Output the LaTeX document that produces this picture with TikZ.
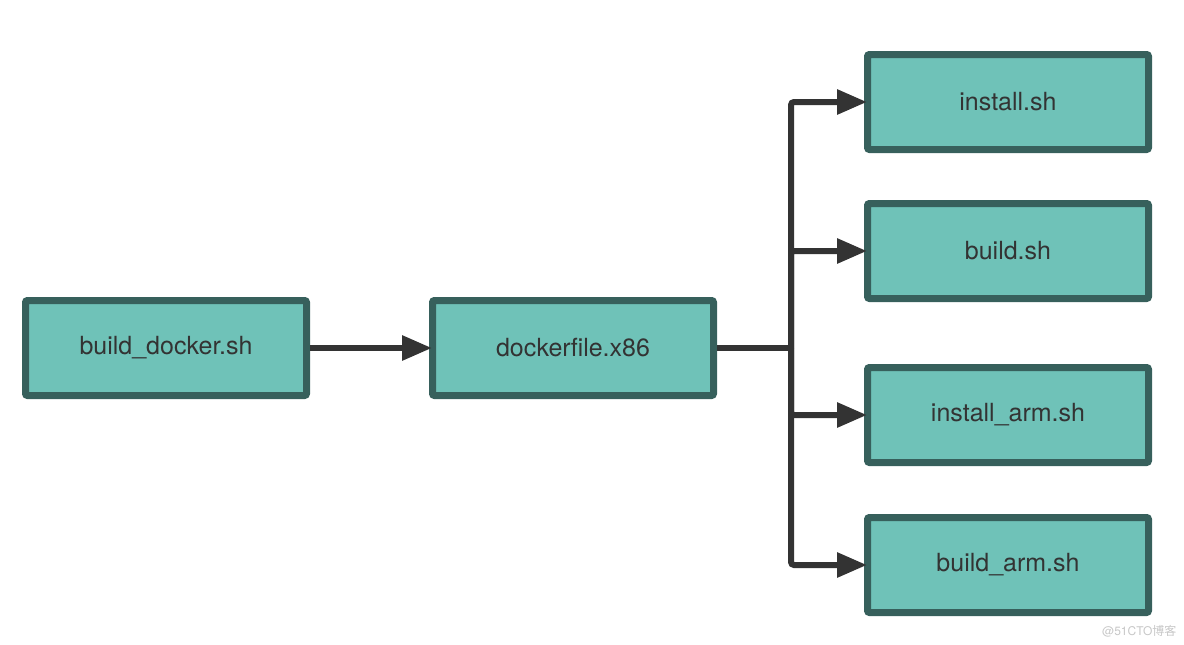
\documentclass[tikz,border=0pt]{standalone}
\usepackage{fontspec}
\setmainfont{TeX Gyre Heros}
\newfontfamily\cjk{Noto Sans CJK SC}
\usepackage{xcolor}
\usepackage{tikz}
\usetikzlibrary{arrows.meta, positioning, calc}
\definecolor{boxfill}{RGB}{111,194,184}
\definecolor{boxline}{RGB}{55,96,92}
\definecolor{arrowcol}{RGB}{51,51,51}
\tikzset{
    file/.style={rectangle, draw=boxline, fill=boxfill, line width=7pt, rounded corners=2pt,
        minimum width=281pt, minimum height=95pt, text=arrowcol, font=\fontsize{25}{30}\selectfont},
    arrow/.style={-{Triangle[length=30pt,width=24pt]}, draw=arrowcol, line width=6pt, rounded corners=3pt,
        shorten >=-3pt},
    trunk/.style={draw=arrowcol, line width=6pt}
}
\begin{document}
\begin{tikzpicture}[x=1pt, y=-1pt]
    \useasboundingbox (0,0) rectangle (1184,645);

    \node[file] (docker) at (166,348) {build\_docker.sh};
    \node[file] (x86) at (573,348) {dockerfile.x86};
    \node[file] (install) at (1008,102) {install.sh};
    \node[file] (build) at (1008,251) {build.sh};
    \node[file] (installarm) at (1008,415) {install\_arm.sh};
    \node[file] (buildarm) at (1008,565) {build\_arm.sh};
    \coordinate (split) at (791,348);

    \draw[arrow] (docker) -- (x86);
    \draw[trunk] (x86.east) -- (split);
    \draw[arrow] (split) |- (install.west);
    \draw[arrow] (split) |- (build.west);
    \draw[arrow] (split) |- (installarm.west);
    \draw[arrow] (split) |- (buildarm.west);

    \node[left, text=black!22, font=\fontsize{12}{14}\selectfont] (mark) at (1180,631) {@51CTO{\cjk 博客}};
\end{tikzpicture}
\end{document}
